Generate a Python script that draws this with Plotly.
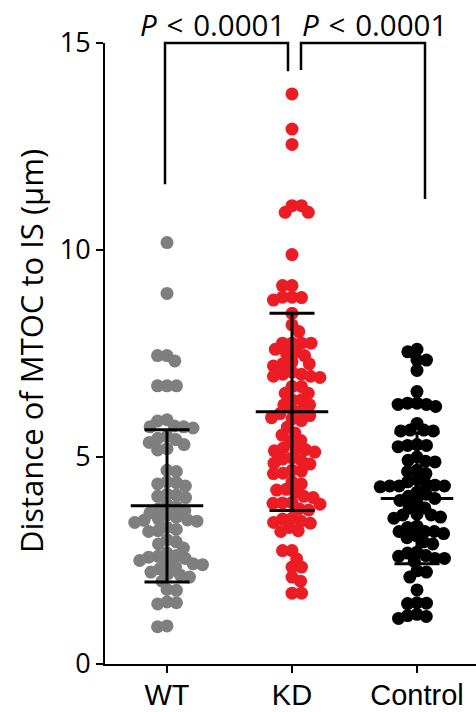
import numpy as np
import plotly.graph_objects as go

# ---------------- data ----------------
groups = ["WT", "KD", "Control"]

wt_vals = [10.18, 8.95, 7.45, 7.45, 7.32, 6.72, 6.72, 6.72, 5.90, 5.87,
           5.75, 5.73, 5.73, 5.70, 5.5, 5.45, 5.42, 5.35, 5.3, 5.2, 5.17,
           4.68, 4.65, 4.4, 4.38, 4.35, 4.3, 4.1, 4.08, 4.05, 4.02,
           3.85, 3.8, 3.75, 3.7, 3.65, 3.6, 3.55, 3.5, 3.48, 3.47, 3.45, 3.42,
           3.3, 3.25, 3.22, 3.2, 3.0, 2.95, 2.9, 2.8,
           2.68, 2.62, 2.6, 2.58, 2.55, 2.5, 2.45, 2.42, 2.4, 2.35, 2.3,
           2.22, 2.18, 2.15, 2.1, 2.0, 1.8, 1.78, 1.5, 1.48, 1.45, 0.92, 0.9]

kd_vals = [13.77, 12.92, 12.55, 11.07, 11.07, 10.91, 10.91, 9.89, 9.14, 9.14,
           8.86, 8.85, 8.86, 8.79, 8.47, 8.19, 8.03,
           7.75, 7.75, 7.75, 7.75, 7.6, 7.54, 7.5, 7.45,
           7.3, 7.25, 7.25, 7.2,
           7.05, 7.0, 6.95, 6.92, 6.95, 7.0,
           6.7, 6.7, 6.54, 6.54, 6.38, 6.38, 6.26, 6.26, 6.15, 6.12, 6.05, 6.0,
           5.95, 5.92, 5.88, 5.72, 5.58, 5.53, 5.4, 5.38,
           5.22, 5.2, 5.18, 5.15, 5.12, 4.98, 4.95, 4.92, 4.85, 4.83,
           4.68, 4.66, 4.61, 4.6, 4.4, 4.35, 4.22, 4.2, 4.15, 4.05, 4.02,
           3.9, 3.89, 3.88, 3.86, 3.75, 3.72,
           3.52, 3.5, 3.45, 3.42, 3.4, 3.3, 3.22, 3.2,
           2.74, 2.74, 2.54, 2.34, 2.34, 2.1, 2.0, 1.71, 1.71]

ctrl_vals = [7.6, 7.54, 7.34, 7.34, 7.09, 6.58,
             6.3, 6.27, 6.22, 6.27, 6.3,
             5.81, 5.65, 5.63, 5.63, 5.65,
             5.3, 5.28, 5.28, 5.25,
             5.0, 4.92, 4.9, 4.88,
             4.68, 4.65, 4.6,
             4.45, 4.4, 4.35, 4.32, 4.3, 4.3, 4.28, 4.3,
             4.15, 4.1, 4.05, 4.0, 3.95, 3.9,
             3.77, 3.77, 3.62, 3.6, 3.55, 3.52, 3.6,
             3.33, 3.3, 3.2, 3.15, 3.1, 3.05, 3.2, 3.2,
             2.95, 2.9, 2.7, 2.68,
             2.62, 2.55, 2.48, 2.55, 2.6,
             2.25, 2.22, 2.1, 1.79,
             1.48, 1.46, 1.47, 1.2, 1.15, 1.1, 1.17]

mean_vals = [3.82, 6.09, 4.00]
sd_vals = [1.84, 2.38, 1.58]

y_ticks = [0, 5, 10, 15]
y_title = "Distance of MTOC to IS (μm)"
p_labels = ["<i>P</i>\u2004<\u20040.0001", "<i>P</i>\u2004<\u20040.0001"]
p_label_x = [0.36, 1.656]
p_label_y = 15.45
# bracket legs: x position of each leg and the value where each leg ends
bracket_legs_x = [[-0.016, 0.968], [1.072, 2.064]]
bracket_legs_end = [[11.59, 14.32], [14.35, 11.23]]
bracket_top = 15.0

# ---------------- styling / layout ----------------
colors = ["#7f7f7f", "#ec1c24", "#000000"]
W, H = 476, 712
ML, MR, MT, MB = 105, 0, 43, 48
X_RANGE = [-0.496, 2.472]
Y_RANGE = [0, 15]
px_x = (W - ML - MR) / (X_RANGE[1] - X_RANGE[0])
px_y = (H - MT - MB) / (Y_RANGE[1] - Y_RANGE[0])
MARKER = 13
COLL = 9.5


def swarm(vals, diam):
    ys = np.asarray(vals, dtype=float) * px_y
    order = np.argsort(-ys, kind="stable")
    placed = []
    offs = np.zeros(len(ys))
    for k, i in enumerate(order):
        y = ys[i]
        near = [(xo, yo) for xo, yo in placed if abs(yo - y) < diam]
        cands = [0.0]
        for xo, yo in near:
            dx = np.sqrt(diam ** 2 - (yo - y) ** 2)
            cands += [xo + dx, xo - dx]
        sgn = 1 if k % 2 else -1
        cands.sort(key=lambda c: (round(abs(c), 6), sgn * c))
        for c in cands:
            if all((c - xo) ** 2 + (y - yo) ** 2 >= diam ** 2 - 1e-6 for xo, yo in near):
                offs[i] = c
                break
        placed.append((offs[i], y))
    return offs / px_x


fig = go.Figure()
all_vals = [wt_vals, kd_vals, ctrl_vals]
for gi, vals in enumerate(all_vals):
    xo = swarm(vals, COLL)
    fig.add_trace(go.Scatter(
        x=gi + xo, y=vals, mode="markers",
        marker=dict(size=MARKER, color=colors[gi], line=dict(width=0)),
        showlegend=False, hoverinfo="y"))

MEAN_HW = 0.29
CAP_HW = 0.18
for gi in range(3):
    m, s = mean_vals[gi], sd_vals[gi]
    xs = [gi - MEAN_HW, gi + MEAN_HW, None,
          gi, gi, None,
          gi - CAP_HW, gi + CAP_HW, None,
          gi - CAP_HW, gi + CAP_HW]
    ys = [m, m, None,
          m - s, m + s, None,
          m + s, m + s, None,
          m - s, m - s]
    fig.add_trace(go.Scatter(x=xs, y=ys, mode="lines",
                             line=dict(color="black", width=3),
                             showlegend=False, hoverinfo="skip"))


def xd(x):
    return (x - X_RANGE[0]) / (X_RANGE[1] - X_RANGE[0])


def yd(y):
    return (y - Y_RANGE[0]) / (Y_RANGE[1] - Y_RANGE[0])


shapes = []
for bx, be in zip(bracket_legs_x, bracket_legs_end):
    shapes.append(dict(
        type="path", xref="x domain", yref="y domain",
        path=(f"M {xd(bx[0])} {yd(be[0])} L {xd(bx[0])} {yd(bracket_top)} "
              f"L {xd(bx[1])} {yd(bracket_top)} L {xd(bx[1])} {yd(be[1])}"),
        line=dict(color="black", width=2.5)))

annotations = []
for px_, lab in zip(p_label_x, p_labels):
    annotations.append(dict(
        x=xd(px_), y=yd(p_label_y), xref="x domain", yref="y domain",
        text=lab, showarrow=False, xanchor="center", yanchor="middle",
        font=dict(family="Open Sans", size=29.5, color="black")))
annotations.append(dict(
    x=(31 - ML) / (W - ML - MR), y=7.56, xref="paper", yref="y",
    text=y_title, textangle=-90, showarrow=False,
    xanchor="center", yanchor="middle",
    font=dict(family="Open Sans", size=31, color="black")))

fig.update_layout(
    width=W, height=H,
    margin=dict(l=ML, r=MR, t=MT, b=MB, pad=0),
    paper_bgcolor="white", plot_bgcolor="white",
    shapes=shapes, annotations=annotations,
    xaxis=dict(range=X_RANGE, tickvals=[0, 1, 2], ticktext=groups,
               automargin=False, ticklabelstandoff=-3,
               showgrid=False, zeroline=False, showline=True,
               linecolor="black", linewidth=2, ticks="outside",
               ticklen=7, tickwidth=2, tickcolor="black",
               tickfont=dict(family="Liberation Sans", size=29, color="black")),
    yaxis=dict(range=Y_RANGE, tickvals=y_ticks, automargin=False,
               showgrid=False, zeroline=False, showline=True,
               linecolor="black", linewidth=2, ticks="outside",
               ticklen=7, tickwidth=2, tickcolor="black",
               tickfont=dict(family="Open Sans", size=27, color="black")),
)

fig.write_html("out.html")
